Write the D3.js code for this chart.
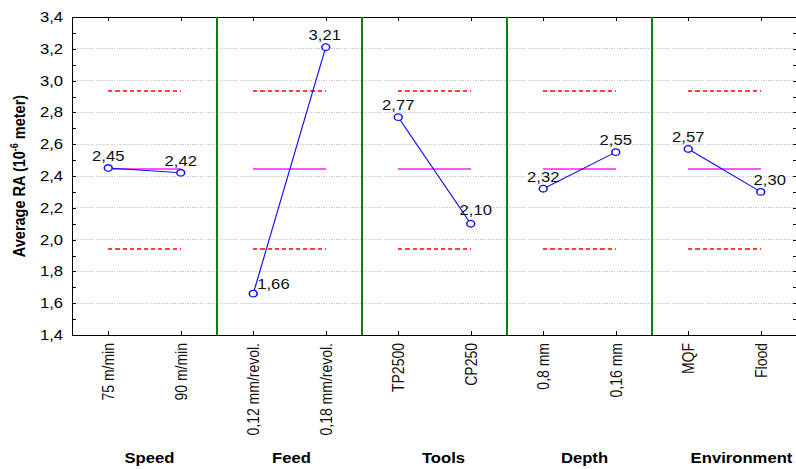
<!DOCTYPE html>
<html>
<head>
<meta charset="utf-8">
<script src="https://cdn.jsdelivr.net/npm/d3@7"></script>
<style>
body { margin: 0; background: #fff; }
svg { display: block; }
text { font-family: Arial, "Liberation Sans", sans-serif; }
</style>
</head>
<body>
<div id="chart"></div>
<script>
var factors = ['Speed', 'Feed', 'Tools', 'Depth', 'Environment'];
var levels = ['75 m/min', '90 m/min', '0,12 mm/revol.', '0,18 mm/revol.', 'TP2500', 'CP250', '0,8 mm', '0,16 mm', 'MQF', 'Flood'];
var meanRA = [2.45, 2.42, 1.66, 3.21, 2.77, 2.10, 2.32, 2.55, 2.57, 2.30];
var grandMean = 2.44;
var limitHigh = 2.93;
var limitLow = 1.94;
var yTicks = [1.4, 1.6, 1.8, 2.0, 2.2, 2.4, 2.6, 2.8, 3.0, 3.2, 3.4];
var yMinorTicks = [1.4, 1.5, 1.6, 1.7, 1.8, 1.9, 2.0, 2.1, 2.2, 2.3, 2.4, 2.5, 2.6, 2.7, 2.8, 2.9, 3.0, 3.1, 3.2, 3.3, 3.4];

// the original picture is stretched sideways, so draw in narrower units and let the viewBox widen it
var w = 796, h = 469, sx = 1.19;
var pLeft = 72 / sx, pRight = 797 / sx, pTop = 17, pBottom = 335;

var loc = d3.formatLocale({decimal: ',', thousands: '.', grouping: [3], currency: ['', '']});
var f1 = loc.format('.1f'), f2 = loc.format('.2f');

var svg = d3.select('#chart').append('svg')
    .attr('width', w)
    .attr('height', h)
    .attr('viewBox', '0 0 ' + (w / sx) + ' ' + h)
    .attr('preserveAspectRatio', 'none');

var x = d3.scalePoint().domain(levels).range([pLeft, pRight]).padding(0.5);
var y = d3.scaleLinear().domain([1.4, 3.4]).range([pBottom, pTop]);
var step = x.step();

// keep 2px coloured rules on whole pixel pairs so they stay sharp
function snap2(v) { return 2 * Math.floor(v / 2) + 1; }

// dotted grid
svg.append('g').selectAll('line')
    .data(yTicks.slice(1, -1))
    .enter().append('line')
    .attr('x1', pLeft).attr('x2', pRight)
    .attr('y1', function(d) { return y(d); })
    .attr('y2', function(d) { return y(d); })
    .attr('stroke', '#d2d2d2')
    .attr('stroke-width', 1)
    .attr('stroke-dasharray', '1.3,0.9')
    .attr('shape-rendering', 'crispEdges');

// axes, ticks pointing inwards
function styleAxis(g) {
    g.attr('font-size', 14).attr('font-family', null);
    g.selectAll('path, line').attr('stroke', '#000').attr('shape-rendering', 'crispEdges');
    g.selectAll('text').attr('fill', '#000');
}

svg.append('g')
    .attr('transform', 'translate(' + pLeft + ',0)')
    .call(d3.axisLeft(y).tickValues(yMinorTicks).tickSizeInner(-3).tickSizeOuter(0).tickPadding(7.5)
        .tickFormat(function(d) { return yTicks.some(function(t) { return Math.abs(t - d) < 1e-9; }) ? f1(d) : ''; }))
    .call(styleAxis);

svg.append('g')
    .attr('transform', 'translate(' + pRight + ',0)')
    .call(d3.axisRight(y).tickValues(yMinorTicks).tickSizeInner(-3).tickSizeOuter(0).tickFormat(''))
    .call(styleAxis);

svg.append('g')
    .attr('transform', 'translate(0,' + pTop + ')')
    .call(d3.axisTop(x).tickSizeInner(-4).tickSizeOuter(0).tickFormat(''))
    .call(styleAxis);

svg.append('g')
    .attr('transform', 'translate(0,' + pBottom + ')')
    .call(d3.axisBottom(x).tickSizeInner(-4).tickSizeOuter(0).tickFormat(''))
    .call(styleAxis);

// level labels, rotated
svg.append('g').selectAll('text')
    .data(levels)
    .enter().append('text')
    .attr('transform', function(d) { return 'translate(' + x(d) + ',343) rotate(-90)'; })
    .attr('text-anchor', 'end')
    .attr('dy', '0.35em')
    .attr('font-size', 14)
    .attr('fill', '#111')
    .text(function(d) { return d; });

// factor names under each panel
var factorNudge = [5, 2, 9, 5, 17];
svg.append('g').selectAll('text')
    .data(factors)
    .enter().append('text')
    .attr('x', function(d, i) { return pLeft + (2 * i + 1) * step + factorNudge[i] / sx; })
    .attr('y', 463)
    .attr('text-anchor', 'middle')
    .attr('font-size', 14)
    .attr('font-weight', 'bold')
    .attr('fill', '#000')
    .text(function(d) { return d; });

// y title
var yt = svg.append('text')
    .attr('transform', 'translate(' + (25 / sx) + ',' + ((pTop + pBottom) / 2) + ') rotate(-90)')
    .attr('text-anchor', 'middle')
    .attr('font-size', 14.5)
    .attr('font-weight', 'bold')
    .attr('fill', '#000');
yt.append('tspan').text('Average RA (10');
yt.append('tspan').attr('dy', -6).attr('font-size', 9).text('-6');
yt.append('tspan').attr('dy', 6).text(' meter)');

// panel separators
svg.append('g').selectAll('line')
    .data(factors.slice(1))
    .enter().append('line')
    .attr('x1', function(d, i) { return pLeft + (i + 1) * 2 * step; })
    .attr('x2', function(d, i) { return pLeft + (i + 1) * 2 * step; })
    .attr('y1', pTop).attr('y2', pBottom)
    .attr('stroke', '#0e800e')
    .attr('stroke-width', 1)
    .attr('shape-rendering', 'crispEdges');

var panels = svg.append('g').selectAll('g')
    .data(factors)
    .enter().append('g');

function x0(i) { return x(levels[2 * i]); }
function x1(i) { return x(levels[2 * i + 1]); }

// +/- limits
[limitHigh, limitLow].forEach(function(v) {
    panels.append('line')
        .attr('x1', function(d, i) { return x0(i); })
        .attr('x2', function(d, i) { return x1(i); })
        .attr('y1', snap2(y(v))).attr('y2', snap2(y(v)))
        .attr('stroke', '#ff4040')
        .attr('stroke-width', 2)
        .attr('stroke-dasharray', '3.5,2.5')
        .attr('shape-rendering', 'crispEdges');
});

// grand mean
panels.append('line')
    .attr('x1', function(d, i) { return x0(i); })
    .attr('x2', function(d, i) { return x1(i); })
    .attr('y1', snap2(y(grandMean))).attr('y2', snap2(y(grandMean)))
    .attr('stroke', '#ff55ff')
    .attr('stroke-width', 2)
    .attr('shape-rendering', 'crispEdges');

var line = d3.line()
    .x(function(d) { return x(levels[d]); })
    .y(function(d) { return y(meanRA[d]); });

panels.append('path')
    .attr('d', function(d, i) { return line([2 * i, 2 * i + 1]); })
    .attr('fill', 'none')
    .attr('stroke', '#1010ff')
    .attr('stroke-width', 1);

svg.append('g').selectAll('circle')
    .data(meanRA)
    .enter().append('circle')
    .attr('cx', function(d, i) { return x(levels[i]); })
    .attr('cy', function(d) { return y(d); })
    .attr('r', 3.3)
    .attr('fill', '#fff')
    .attr('stroke', '#1010ff')
    .attr('stroke-width', 1.3);

// value labels; a few sit off to the side as in the original
var labelDx = [0, 0, 4, -1, 0, 5, 0, 0, 0, 9];
svg.append('g').selectAll('text')
    .data(meanRA)
    .enter().append('text')
    .attr('x', function(d, i) { return x(levels[i]) + labelDx[i] / sx; })
    .attr('y', function(d, i) { return y(d) - (i === 2 ? 5 : i === 5 ? 9 : 7); })
    .attr('text-anchor', function(d, i) { return i === 2 ? 'start' : 'middle'; })
    .attr('font-size', 14)
    .attr('fill', '#111')
    .text(function(d) { return f2(d); });
</script>
</body>
</html>
